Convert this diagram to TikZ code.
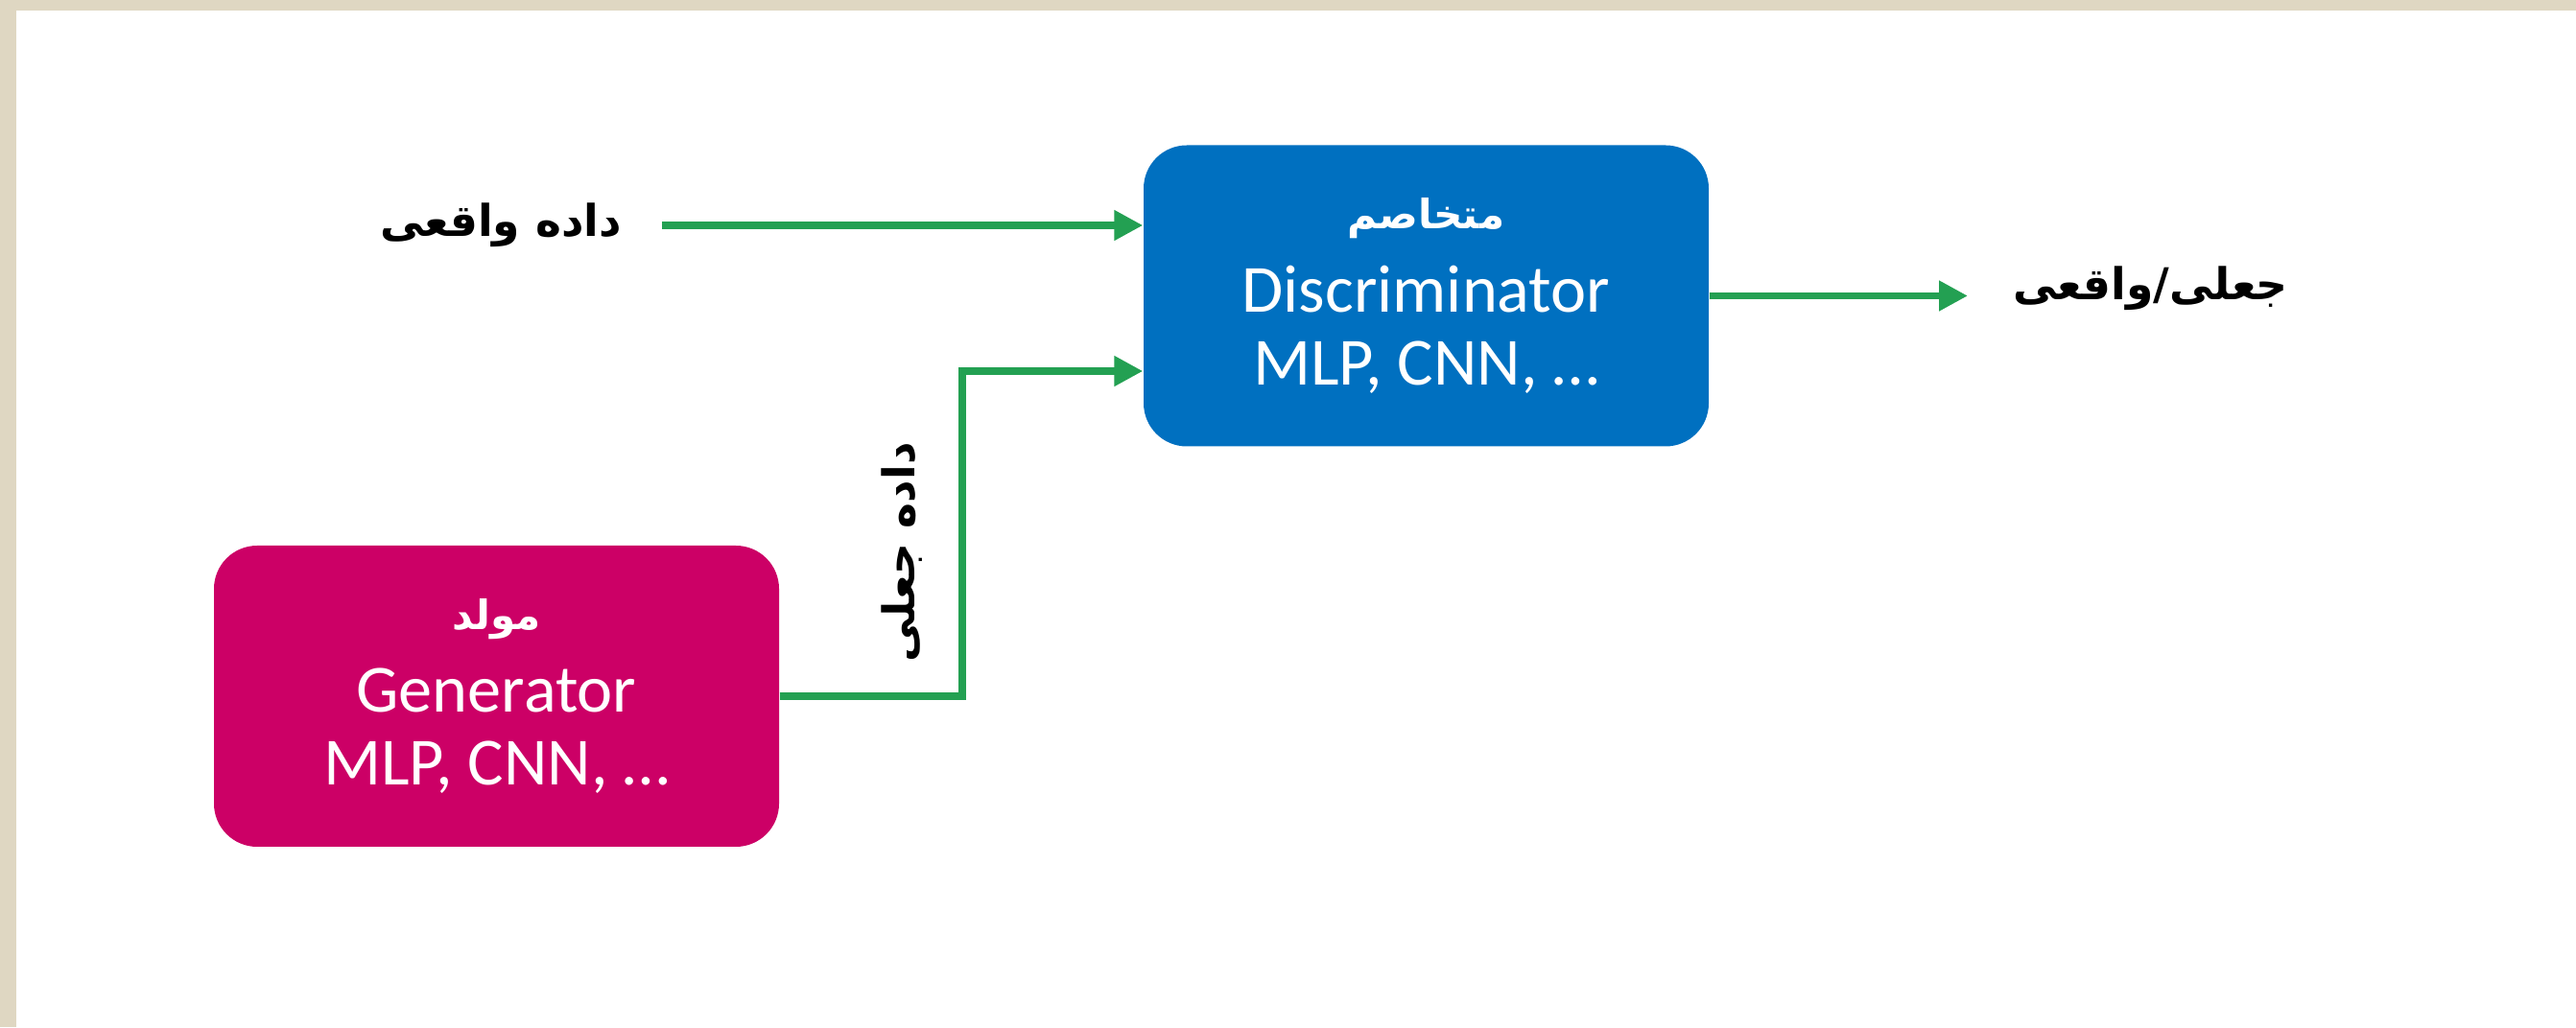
\documentclass[tikz,border=0pt]{standalone}
\usepackage{fontspec}
\setmainfont{Carlito}
\newfontfamily\arabicfont[Script=Arabic]{DejaVu Sans}
\TeXXeTstate=1
\usetikzlibrary{arrows.meta}
\definecolor{frame}{HTML}{DFD7C2}
\definecolor{discblue}{HTML}{0070C0}
\definecolor{genpink}{HTML}{CC0066}
\definecolor{flow}{HTML}{23A052}
\tikzset{
  netbox/.style = {rounded corners=0.45cm, minimum width=5.89cm, minimum height=3.14cm,
                   text=white, align=center, font=\fontsize{20}{21.6}\selectfont},
  flowarrow/.style = {draw=flow, line width=2.2pt, -{Triangle[length=0.3cm, width=0.3cm]}},
  farsi/.style = {font=\fontsize{13}{16}\selectfont\arabicfont\bfseries}
}
\begin{document}
\begin{tikzpicture}
\useasboundingbox (0,0) rectangle (26.85,10.71);
\fill[frame] (0,0) rectangle (26.85,10.71);
\fill[white] (0.17,0) rectangle (26.85,10.60);
% the two networks
\node[netbox, fill=discblue] (disc) at (14.865,7.625)
  {{\arabicfont\bfseries\fontsize{12}{20}\selectfont\beginR متخاصم\endR}\\[3pt]Discriminator\\MLP, CNN, …};
\node[netbox, fill=genpink] (gen) at (5.175,3.45)
  {{\arabicfont\bfseries\fontsize{12}{20}\selectfont\beginR مولد\endR}\\[3pt]Generator\\MLP, CNN, …};
% labels
\node[farsi, anchor=east] (real) at (6.60,8.36) {\beginR داده واقعی\endR};
\node[farsi, anchor=west] (out) at (20.86,7.70) {\beginR جعلی/واقعی\endR};
\node[farsi, rotate=90] (fake) at (9.40,4.95) {\beginR داده جعلی\endR};
\coordinate (bend) at (10.03,6.84);
% connectors
\draw[flowarrow] (real.east) ++(0.3,0) -- (real.east -| disc.west);
\draw[flowarrow] (gen.east) -| (bend) -- (bend -| disc.west);
\draw[flowarrow, shorten >=0.35cm] (disc.east) -- (disc.east -| out.west);
\end{tikzpicture}
\end{document}
